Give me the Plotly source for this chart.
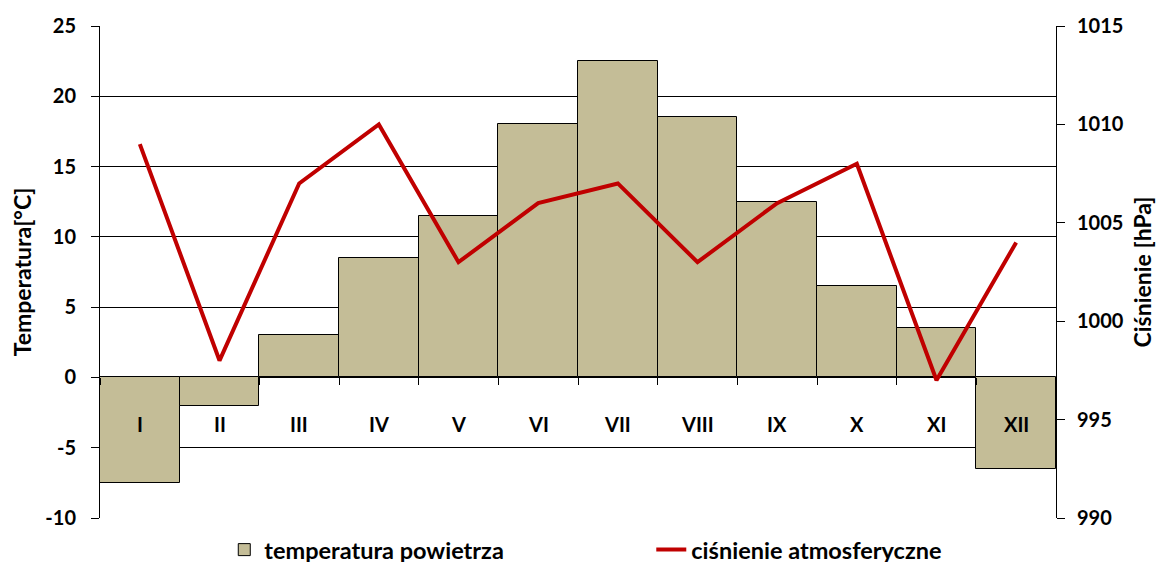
import plotly.graph_objects as go

months = ["I", "II", "III", "IV", "V", "VI", "VII", "VIII", "IX", "X", "XI", "XII"]
temperature = [-7.5, -2, 3, 8.5, 11.5, 18, 22.5, 18.5, 12.5, 6.5, 3.5, -6.5]
pressure = [1009, 998, 1007, 1010, 1003, 1006, 1007, 1003, 1006, 1008, 997, 1004]
temp_ticks = [-10, -5, 0, 5, 10, 15, 20, 25]
temp_ticktext = ["-10", "-5", "0", "5", "10", "15", "20", "25"]
press_ticks = [990, 995, 1000, 1005, 1010, 1015]
label_level = -3.3

FONT = "Lato"

fig = go.Figure()
fig.add_trace(go.Bar(
    x=months, y=temperature, name="temperatura powietrza",
    marker=dict(color="#C4BD97", line=dict(color="black", width=1)),
    yaxis="y",
))
fig.add_trace(go.Scatter(
    x=months, y=pressure, name="ciśnienie atmosferyczne",
    mode="lines", line=dict(color="#C00000", width=4),
    yaxis="y2",
))

for m in months:
    fig.add_annotation(x=m, y=label_level, xref="x", yref="y", text="<b>%s</b>" % m,
                       showarrow=False, font=dict(family=FONT, size=20, color="black"))

zero_pos = (0 - (-10)) / 35.0
tickfont = dict(family=FONT, size=20, color="black", weight="bold")

fig.update_layout(
    width=1168, height=562,
    margin=dict(l=92, r=120, t=18, b=52, autoexpand=False),
    plot_bgcolor="white", paper_bgcolor="white",
    bargap=0,
    font=dict(family=FONT, color="black"),
    showlegend=True,
    legend=dict(orientation="h", x=0.13, xanchor="left", y=-0.02, yanchor="top",
                font=dict(family=FONT, size=23.5, color="black", weight="bold"),
                traceorder="normal", entrywidth=382),
    xaxis=dict(
        anchor="free", position=zero_pos,
        showline=False, showgrid=False, zeroline=False,
        ticks="outside", tickson="boundaries", ticklen=7, tickcolor="black", tickwidth=1,
        showticklabels=False, range=[-0.5, 11.5],
    ),
    yaxis=dict(
        range=[-10, 25], tickvals=temp_ticks, ticktext=temp_ticktext,
        showline=True, linecolor="black", linewidth=1,
        ticks="outside", ticklen=8, tickcolor="black", ticklabelstandoff=11,
        showgrid=True, gridcolor="black", gridwidth=1, zeroline=False,
        tickfont=tickfont,
        title=dict(text="<b>Temperatura[°C]</b>", font=dict(family=FONT, size=23, color="black"), standoff=12),
    ),
    yaxis2=dict(
        range=[990, 1015], tickvals=press_ticks, overlaying="y", side="right",
        showline=True, linecolor="black", linewidth=1,
        ticks="outside", ticklen=8, tickcolor="black", ticklabelstandoff=8,
        showgrid=False, zeroline=False,
        tickfont=tickfont,
        title=dict(text="<b>Ciśnienie [hPa]</b>", font=dict(family=FONT, size=23, color="black"), standoff=12),
    ),
)

fig.write_html("out.html")
